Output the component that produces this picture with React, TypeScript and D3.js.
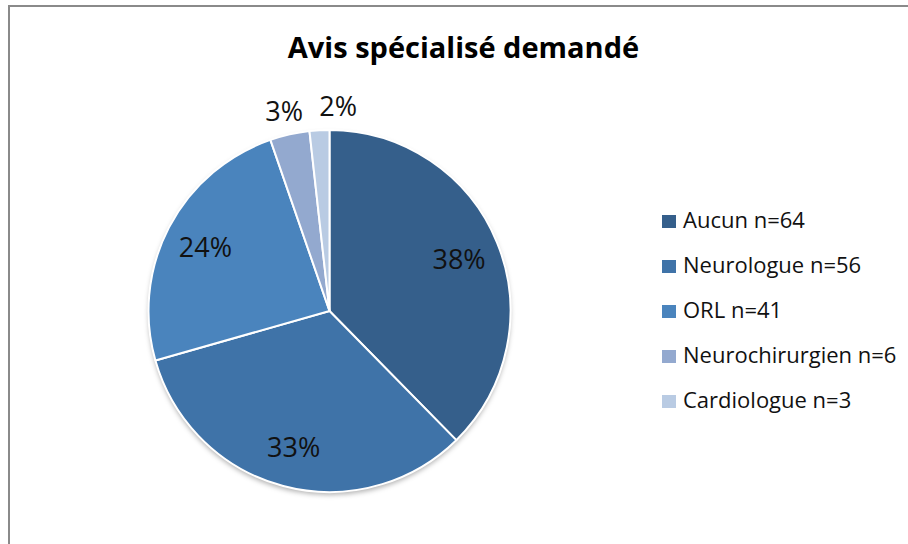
import React from "react";
import * as d3 from "d3";

const categories = ["Aucun", "Neurologue", "ORL", "Neurochirurgien", "Cardiologue"];
const counts = [64, 56, 41, 6, 3];
const percentLabels = ["38%", "33%", "24%", "3%", "2%"];
const colors = ["#355f8b", "#3f73a8", "#4a84bd", "#93a9cf", "#b9cbe3"];
const title = "Avis spécialisé demandé";

const W = 908;
const H = 544;

export default function App() {
  const cx = 329.5;
  const cy = 311;
  const R = 181;
  const pie = d3.pie<number>().sort(null).value((d) => d);
  const arcs = pie(counts);
  const arcGen = d3.arc<d3.PieArcDatum<number>>().innerRadius(0).outerRadius(R);
  const inner = d3.arc<d3.PieArcDatum<number>>().innerRadius(140).outerRadius(140);
  const outer = d3.arc<d3.PieArcDatum<number>>().innerRadius(206).outerRadius(206);

  const labels = arcs.map((a, i) => {
    const frac = (a.endAngle - a.startAngle) / (2 * Math.PI);
    const isOut = frac < 0.05;
    const [x, y] = (isOut ? outer : inner).centroid(a);
    return { x: cx + x, y: cy + y, isOut, text: percentLabels[i] };
  });
  const outs = labels.filter((l) => l.isOut).sort((a, b) => a.x - b.x);
  for (let i = 1; i < outs.length; i++) {
    if (outs[i].x - outs[i - 1].x < 54) outs[i].x = outs[i - 1].x + 54;
  }

  const legendY = d3.scaleBand<string>().domain(categories).range([199.5, 424.5]);

  return (
    <svg width={W} height={H} style={{ position: "absolute", left: 0, top: 0, background: "#fff" }}>
      <defs>
        <filter id="sh" x="-20%" y="-20%" width="140%" height="140%">
          <feDropShadow dx="0" dy="3" stdDeviation="2.5" floodColor="#000" floodOpacity="0.3" />
        </filter>
      </defs>
      <rect x={0} y={0} width={W} height={H} fill="#fff" />
      <rect x={9} y={6} width={1200} height={1200} fill="none" stroke="#8a8a8a" strokeWidth={2} />
      <text
        x={463.5}
        y={58}
        textAnchor="middle"
        fontFamily="'Open Sans', sans-serif"
        fontWeight="bold"
        fontSize={29}
        fill="#000"
      >
        {title}
      </text>
      <g transform={`translate(${cx},${cy})`}>
        <circle r={R} fill="#fff" filter="url(#sh)" />
        {arcs.map((a, i) => (
          <path key={i} d={arcGen(a) || ""} fill={colors[i]} stroke="#fff" strokeWidth={2} strokeLinejoin="round" />
        ))}
      </g>
      {labels.map((l, i) => (
        <text
          key={i}
          x={l.x}
          y={l.y}
          textAnchor="middle"
          dominantBaseline="central"
          fontFamily="'Open Sans', sans-serif"
          fontSize={27}
          fill="#111"
        >
          {l.text}
        </text>
      ))}
      {categories.map((c, i) => {
        const y0 = (legendY(c) || 0) + legendY.bandwidth() / 2;
        return (
          <g key={c}>
            <rect x={662} y={y0 - 7} width={14} height={13} fill={colors[i]} />
            <text
              x={683}
              y={y0 + 6}
              fontFamily="'Open Sans', sans-serif"
              fontSize={22}
              fill="#111"
            >
              {`${c} n=${counts[i]}`}
            </text>
          </g>
        );
      })}
    </svg>
  );
}
